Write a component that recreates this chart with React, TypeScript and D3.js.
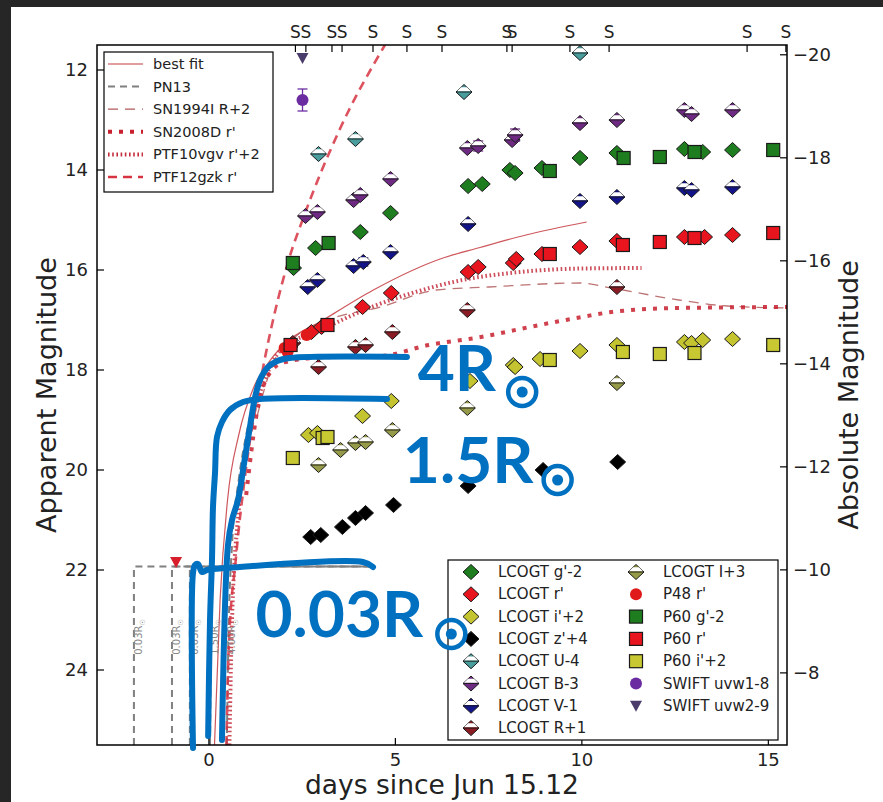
import React from 'react';
import * as d3 from 'd3';

// ---- axis ticks ----
const leftTicks = [12, 14, 16, 18, 20, 22, 24];
const rightTicks = [-20, -18, -16, -14, -12, -10, -8];
const bottomTicks = [0, 5, 10, 15];
// epochs of spectra (days), marked "S" on the top axis
const spectraDays = [2.32, 2.6, 3.3, 3.57, 4.4, 5.31, 6.25, 7.99, 8.13, 9.68, 10.73, 14.43, 15.47];

// ---- photometry: [days, mag, err?] ----
const lcogtG = [[2.27, 15.96], [2.86, 15.56], [4.06, 15.24], [4.87, 14.86], [6.95, 14.32], [7.33, 14.28], [8.07, 14.0], [8.21, 14.06], [8.93, 13.96], [9.95, 13.76], [10.94, 13.66], [12.75, 13.58], [13.24, 13.64], [14.04, 13.6]];
const lcogtR = [[2.17, 17.54], [2.75, 17.24], [3.02, 17.14], [4.12, 16.74], [4.89, 16.46], [6.95, 16.04], [7.22, 15.94], [8.16, 15.86], [8.24, 15.78], [8.93, 15.68], [9.95, 15.54], [10.94, 15.42], [12.75, 15.34], [13.29, 15.34], [14.04, 15.3]];
const lcogtIp = [[2.67, 19.3], [2.91, 19.26], [4.12, 18.92], [4.89, 18.62], [7.0, 18.22], [8.16, 17.9], [8.21, 17.94], [8.88, 17.78], [9.95, 17.62], [10.94, 17.5], [12.75, 17.44], [12.94, 17.46], [13.24, 17.4], [14.04, 17.38]];
const lcogtZ = [[2.73, 21.34], [3.0, 21.3], [3.58, 21.14], [3.93, 20.96], [4.2, 20.86], [4.95, 20.7], [6.95, 20.32], [8.96, 20.0], [10.96, 19.84]];
const lcogtU = [[2.94, 13.68], [3.93, 13.38], [6.84, 12.44], [9.95, 11.66]];
const lcogtB = [[2.59, 14.92], [2.91, 14.84], [3.88, 14.6], [4.06, 14.5], [4.87, 14.18], [6.93, 13.56], [7.22, 13.52, 0.1], [8.13, 13.4], [8.21, 13.3, 0.12], [9.95, 13.06], [10.94, 13.0], [12.75, 12.8], [12.94, 12.88], [14.04, 12.8]];
const lcogtV = [[2.65, 16.34], [2.91, 16.2], [3.88, 15.92], [4.14, 15.84, 0.08], [4.87, 15.64], [6.95, 15.08], [9.95, 14.62], [10.94, 14.54], [12.75, 14.36], [12.94, 14.4], [14.04, 14.34]];
const lcogtRR = [[2.25, 17.46], [2.94, 17.94], [3.93, 17.54], [4.2, 17.5], [4.92, 17.24], [6.93, 16.8], [10.94, 16.34]];
const lcogtII = [[2.94, 19.9], [3.53, 19.6], [3.93, 19.46], [4.2, 19.44], [4.92, 19.2], [6.93, 18.76], [10.94, 18.26]];
const p48R = [[2.03, 17.56], [2.11, 17.64], [2.62, 17.3]];
const p48Limit = [[-0.88, 21.84]];
const p60G = [[2.25, 15.86], [3.21, 15.46], [9.14, 14.02], [11.12, 13.76], [12.09, 13.74], [13.02, 13.64], [15.13, 13.6]];
const p60R = [[2.19, 17.5], [3.18, 17.1], [9.14, 15.68], [11.1, 15.5], [12.09, 15.44], [13.02, 15.36], [15.13, 15.26]];
const p60I = [[2.25, 19.76], [3.05, 19.36], [3.18, 19.34], [9.14, 17.8], [11.1, 17.64], [12.09, 17.68], [13.02, 17.66], [15.13, 17.5]];
const swiftW1 = [[2.51, 12.6, 0.22]];
const swiftW2 = [[2.51, 11.76]];

// ---- model / comparison light curves: [days, mag] ----
const bestFit = [[0.15, 25.5], [0.3, 22.6], [0.5, 20.6], [0.8, 19.3], [1.2, 18.35], [1.6, 17.85], [2.0, 17.5], [3.07, 17.0], [4.41, 16.4], [6.2, 15.78], [7.27, 15.55], [8.5, 15.3], [10.13, 15.04]];
const sn1994I = [[1.3, 18.9], [1.7, 17.9], [2.3, 17.35], [3.2, 17.0], [4.6, 16.74], [6.1, 16.4], [7.5, 16.34], [9.95, 16.26], [10.8, 16.36], [12.6, 16.6], [13.9, 16.72], [15.5, 16.76]];
const sn2008D = [[1.0, 20.5], [1.3, 18.8], [1.6, 18.1], [2.0, 17.85], [3.0, 17.75], [4.6, 17.72], [5.9, 17.5], [7.3, 17.34], [8.6, 17.14], [10.0, 16.94], [10.8, 16.84], [12.6, 16.76], [15.5, 16.74]];
const ptf10vgv = [[0.55, 25.5], [0.62, 23.0], [0.8, 20.8], [1.1, 19.2], [1.5, 18.2], [1.93, 17.6], [3.0, 17.2], [4.5, 16.7], [5.5, 16.45], [6.8, 16.2], [8.2, 16.05], [10.0, 15.97], [11.6, 15.96]];
const ptf12gzk = [[0.47, 25.5], [0.53, 23.6], [0.72, 21.8], [0.99, 20.0], [1.39, 18.2], [2.14, 15.8], [2.54, 14.94], [3.5, 13.2], [4.72, 11.5]];
// PN13 cooling-envelope models
const pn13Small = [-2.01, -0.99, -0.51]; // 0.03 Rsun, start days
const pn13SmallPlateau = 21.93;
const pn13SmallEnd = 4.4;
const pn13Mid = [[0.03, 25.5], [0.06, 23.0], [0.12, 21.0], [0.22, 19.5], [0.4, 18.9], [0.8, 18.65], [1.4, 18.58], [4.4, 18.56]];
const pn13Large = [[0.48, 25.5], [0.52, 23.5], [0.62, 21.5], [0.8, 20.2], [1.0, 19.3], [1.25, 18.5], [1.6, 18.0], [2.1, 17.8], [4.4, 17.74]];
const pn13Labels = [
  { day: -2.01, text: '0.03R' },
  { day: -0.99, text: '0.03R' },
  { day: -0.51, text: '0.03R' },
  { day: 0.03, text: '1.50R' },
  { day: 0.48, text: '4.00R' },
];

// ---- hand-drawn radius annotations: [days, mag] ----
const markLarge = [[0.351, 25.4], [0.512, 21.5], [0.62, 21.0], [0.78, 20.6], [0.97, 19.74], [1.1, 19.14], [1.24, 18.54], [1.37, 18.2], [1.56, 17.96], [1.83, 17.82], [2.17, 17.76], [5.31, 17.74]];
const markMid = [[-0.02, 25.32], [0.03, 23.0], [0.083, 21.8], [0.11, 20.74], [0.164, 20.06], [0.217, 19.34], [0.351, 19.04], [0.566, 18.8], [0.915, 18.64], [1.37, 18.58], [4.775, 18.58]];
const markSmall = [[-0.426, 25.56], [-0.426, 22.06], [-0.372, 21.9], [-0.292, 21.88], [-0.185, 22.04], [-0.051, 22.0], [0.486, 21.96], [4.13, 21.84], [4.4, 21.94]];
const markLabels = [
  { text: '4R', day: 5.6, mag: 18.42, sunDay: 8.4, sunMag: 18.44 },
  { text: '1.5R', day: 5.2, mag: 20.26, sunDay: 9.35, sunMag: 20.2 },
  { text: '0.03R', day: 1.25, mag: 23.34, sunDay: 6.5, sunMag: 23.28 },
];

// ---- legends ----
const modelLegend = ['best fit', 'PN13', 'SN1994I R+2', "SN2008D r'", "PTF10vgv r'+2", "PTF12gzk r'"];
const dataLegendLeft = ["LCOGT g'-2", "LCOGT r'", "LCOGT i'+2", "LCOGT z'+4", 'LCOGT U-4', 'LCOGT B-3', 'LCOGT V-1', 'LCOGT R+1'];
const dataLegendRight = ['LCOGT I+3', "P48 r'", "P60 g'-2", "P60 r'", "P60 i'+2", 'SWIFT uvw1-8', 'SWIFT uvw2-9'];

const FONT = "'DejaVu Sans', sans-serif";
const BLUE = '#0070C0';

const x = d3.scaleLinear().domain([-3, 15.5]).range([97, 787]);
const y = d3.scaleLinear().domain([11.5, 25.5]).range([45, 745]);
const yAbs = d3.scaleLinear().domain([-20.19, -6.6]).range([45, 745]);

const smooth = d3.line<number[]>().x(d => x(d[0])).y(d => y(d[1])).curve(d3.curveMonotoneX);
const stroke = d3.line<number[]>().x(d => x(d[0])).y(d => y(d[1])).curve(d3.curveCatmullRom.alpha(0.5));

type Kind = 'diamond' | 'half' | 'square' | 'circle' | 'tri';

function Marker({ kind, fill, cx, cy }: { kind: Kind; fill: string; cx: number; cy: number }) {
  const edge = '#1a1a1a';
  if (kind === 'diamond' || kind === 'half') {
    const w = 8, h = 7.5;
    return (
      <g>
        <path d={`M${cx},${cy - h}L${cx + w},${cy}L${cx},${cy + h}L${cx - w},${cy}Z`} fill={fill} stroke={edge} strokeWidth={1} />
        {kind === 'half' && (
          <>
            <path d={`M${cx - 2.9},${cy - 4.8}L${cx + 2.9},${cy - 4.8}L${cx + 7.1},${cy - 0.8}L${cx - 7.1},${cy - 0.8}Z`} fill="#fff" />
            <line x1={cx - 7.6} x2={cx + 7.6} y1={cy} y2={cy} stroke={edge} strokeWidth={0.9} />
          </>
        )}
      </g>
    );
  }
  if (kind === 'square') {
    return <rect x={cx - 6.5} y={cy - 6.5} width={13} height={13} fill={fill} stroke={edge} strokeWidth={1.2} />;
  }
  if (kind === 'circle') {
    return <circle cx={cx} cy={cy} r={6} fill={fill} stroke="none" />;
  }
  return <path d={`M${cx - 6},${cy - 5}L${cx + 6},${cy - 5}L${cx},${cy + 6}Z`} fill={fill} />;
}

const dataSeries: { data: number[][]; kind: Kind; fill: string }[] = [
  { data: lcogtU, kind: 'half', fill: '#4a9d9d' },
  { data: lcogtB, kind: 'half', fill: '#6e2a83' },
  { data: lcogtV, kind: 'half', fill: '#14148a' },
  { data: lcogtRR, kind: 'half', fill: '#8c1c24' },
  { data: lcogtII, kind: 'half', fill: '#959a48' },
  { data: lcogtZ, kind: 'diamond', fill: '#000000' },
  { data: lcogtIp, kind: 'diamond', fill: '#c4c431' },
  { data: lcogtG, kind: 'diamond', fill: '#1e7d1e' },
  { data: lcogtR, kind: 'diamond', fill: '#e8141e' },
  { data: p48R, kind: 'circle', fill: '#e01a1a' },
  { data: p60G, kind: 'square', fill: '#1e7d1e' },
  { data: p60R, kind: 'square', fill: '#e8141e' },
  { data: p60I, kind: 'square', fill: '#c8c832' },
  { data: swiftW1, kind: 'circle', fill: '#6a2ca0' },
  { data: swiftW2, kind: 'tri', fill: '#4a3c6a' },
  { data: p48Limit, kind: 'tri', fill: '#d81e2a' },
];

const legendKinds: { kind: Kind; fill: string }[][] = [
  [
    { kind: 'diamond', fill: '#1e7d1e' },
    { kind: 'diamond', fill: '#e8141e' },
    { kind: 'diamond', fill: '#c4c431' },
    { kind: 'diamond', fill: '#000000' },
    { kind: 'half', fill: '#4a9d9d' },
    { kind: 'half', fill: '#6e2a83' },
    { kind: 'half', fill: '#14148a' },
    { kind: 'half', fill: '#8c1c24' },
  ],
  [
    { kind: 'half', fill: '#959a48' },
    { kind: 'circle', fill: '#e01a1a' },
    { kind: 'square', fill: '#1e7d1e' },
    { kind: 'square', fill: '#e8141e' },
    { kind: 'square', fill: '#c8c832' },
    { kind: 'circle', fill: '#6a2ca0' },
    { kind: 'tri', fill: '#4a3c6a' },
  ],
];

const modelStyles = [
  { stroke: '#c43a3f', width: 1.2, dash: '' },
  { stroke: '#808080', width: 2, dash: '7,5' },
  { stroke: '#b25a5a', width: 1.3, dash: '10,7' },
  { stroke: '#c8202f', width: 4, dash: '4,7' },
  { stroke: '#c42d3c', width: 4, dash: '1.6,2.6' },
  { stroke: '#d63442', width: 2.6, dash: '9,6' },
];

export default function App() {
  const [x0, x1] = x.range();
  const [y0, y1] = y.range();
  const modelCurves = [bestFit, null, sn1994I, sn2008D, ptf10vgv, ptf12gzk];

  return (
    <svg width={883} height={802} style={{ position: 'absolute', left: 0, top: 0, display: 'block' }} fontFamily={FONT}>
      <rect width={883} height={802} fill="#262626" />
      <rect x={11} y={7} width={872} height={795} fill="#ffffff" />
      <defs>
        <clipPath id="plotArea">
          <rect x={x0} y={y0} width={x1 - x0} height={y1 - y0} />
        </clipPath>
      </defs>

      <g clipPath="url(#plotArea)">
        {/* PN13 small-radius models */}
        {pn13Small.map((t, i) => (
          <path key={i}
            d={smooth([[t, 25.5], [t, pn13SmallPlateau]])! + 'L' + x(pn13SmallEnd) + ',' + y(pn13SmallPlateau)}
            fill="none" stroke="#808080" strokeWidth={2} strokeDasharray="7,5" />
        ))}
        <path d={smooth(pn13Mid)!} fill="none" stroke="#808080" strokeWidth={2} strokeDasharray="7,5" />
        <path d={smooth(pn13Large)!} fill="none" stroke="#808080" strokeWidth={2} strokeDasharray="7,5" />
        {modelCurves.map((c, i) => c && (
          <path key={i} d={smooth(c)!} fill="none" stroke={modelStyles[i].stroke} strokeWidth={modelStyles[i].width}
            strokeDasharray={modelStyles[i].dash || undefined} opacity={0.85} />
        ))}
        {pn13Labels.map((l, i) => (
          <text key={i} transform={`translate(${x(l.day) + 8},${y(23.34)}) rotate(-90)`} textAnchor="middle"
            fontSize={10} fill="#8a8a8a">{l.text}<tspan fontSize={7} dy={3}>☉</tspan></text>
        ))}
      </g>

      {/* photometry */}
      {dataSeries.map((s, i) => (
        <g key={i}>
          {s.data.map((p, j) => (
            <g key={j}>
              {p[2] !== undefined && (
                <g stroke={s.fill} strokeWidth={1.3}>
                  <line x1={x(p[0])} x2={x(p[0])} y1={y(p[1] - p[2])} y2={y(p[1] + p[2])} />
                  <line x1={x(p[0]) - 5} x2={x(p[0]) + 5} y1={y(p[1] - p[2])} y2={y(p[1] - p[2])} />
                  <line x1={x(p[0]) - 5} x2={x(p[0]) + 5} y1={y(p[1] + p[2])} y2={y(p[1] + p[2])} />
                </g>
              )}
              <Marker kind={s.kind} fill={s.fill} cx={x(p[0])} cy={y(p[1])} />
            </g>
          ))}
        </g>
      ))}

      {/* frame */}
      <rect x={x0} y={y0} width={x1 - x0} height={y1 - y0} fill="none" stroke="#000" strokeWidth={1.5} />

      {/* left axis */}
      {leftTicks.map(t => (
        <g key={t}>
          <line x1={x0} x2={x0 + 7} y1={y(t)} y2={y(t)} stroke="#000" strokeWidth={1.2} />
          <text x={x0 - 9} y={y(t) + 6} textAnchor="end" fontSize={18} fill="#222">{t}</text>
        </g>
      ))}
      {/* right axis */}
      {rightTicks.map(t => (
        <g key={t}>
          <line x1={x1 - 7} x2={x1} y1={yAbs(t)} y2={yAbs(t)} stroke="#000" strokeWidth={1.2} />
          <text x={x1 + 6} y={yAbs(t) + 6} textAnchor="start" fontSize={18} fill="#222">{t < 0 ? '\u2212' + Math.abs(t) : t}</text>
        </g>
      ))}
      {/* bottom axis */}
      {bottomTicks.map(t => (
        <g key={t}>
          <line x1={x(t)} x2={x(t)} y1={y1} y2={y1 - 7} stroke="#000" strokeWidth={1.2} />
          <text x={x(t)} y={y1 + 21} textAnchor="middle" fontSize={18} fill="#222">{t}</text>
        </g>
      ))}
      {/* top axis: spectra */}
      {spectraDays.map((t, i) => (
        <g key={i}>
          <line x1={x(t)} x2={x(t)} y1={y0} y2={y0 + 7} stroke="#000" strokeWidth={1.2} />
          <text x={x(t)} y={y0 - 7} textAnchor="middle" fontSize={17} fill="#222">S</text>
        </g>
      ))}

      <text transform={`translate(56,${(y0 + y1) / 2}) rotate(-90)`} textAnchor="middle" fontSize={27} fill="#222">Apparent Magnitude</text>
      <text transform={`translate(858,${(y0 + y1) / 2}) rotate(-90)`} textAnchor="middle" fontSize={27} fill="#222">Absolute Magnitude</text>
      <text x={(x0 + x1) / 2} y={794} textAnchor="middle" fontSize={26.5} fill="#222">days since Jun 15.12</text>

      {/* model legend */}
      <g>
        <rect x={104} y={52} width={169} height={140} fill="#fff" stroke="#000" strokeWidth={1.2} />
        {modelLegend.map((name, i) => {
          const ry = 64 + i * 22.6;
          const s = modelStyles[i];
          return (
            <g key={name}>
              <line x1={108} x2={143} y1={ry} y2={ry} stroke={s.stroke} strokeWidth={s.width} strokeDasharray={s.dash || undefined} />
              <text x={153} y={ry + 5} fontSize={14.5} fill="#222">{name}</text>
            </g>
          );
        })}
      </g>

      {/* data legend */}
      <g>
        <rect x={448} y={560} width={330} height={180} fill="#fff" stroke="#000" strokeWidth={1.2} />
        {[dataLegendLeft, dataLegendRight].map((col, ci) => col.map((name, i) => {
          const ry = 572 + i * 22.3;
          const mx = ci === 0 ? 471 : 636;
          const k = legendKinds[ci][i];
          return (
            <g key={name}>
              <Marker kind={k.kind} fill={k.fill} cx={mx} cy={ry} />
              <text x={mx + 27} y={ry + 5} fontSize={15} fill="#222">{name}</text>
            </g>
          );
        }))}
      </g>

      {/* radius annotations */}
      <g fill="none" stroke={BLUE} strokeWidth={6} strokeLinecap="round" strokeLinejoin="round">
        <path d={stroke(markLarge)!} />
        <path d={stroke(markMid)!} />
        <path d={stroke(markSmall)!} />
      </g>
      {markLabels.map(l => (
        <g key={l.text}>
          <text x={x(l.day)} y={y(l.mag)} fontFamily="Lato, 'Open Sans', sans-serif" fontWeight={700} fontSize={64} fill={BLUE}>{l.text}</text>
          <circle cx={x(l.sunDay)} cy={y(l.sunMag)} r={14} fill="none" stroke={BLUE} strokeWidth={4.5} />
          <circle cx={x(l.sunDay)} cy={y(l.sunMag)} r={5.5} fill={BLUE} />
        </g>
      ))}
    </svg>
  );
}
